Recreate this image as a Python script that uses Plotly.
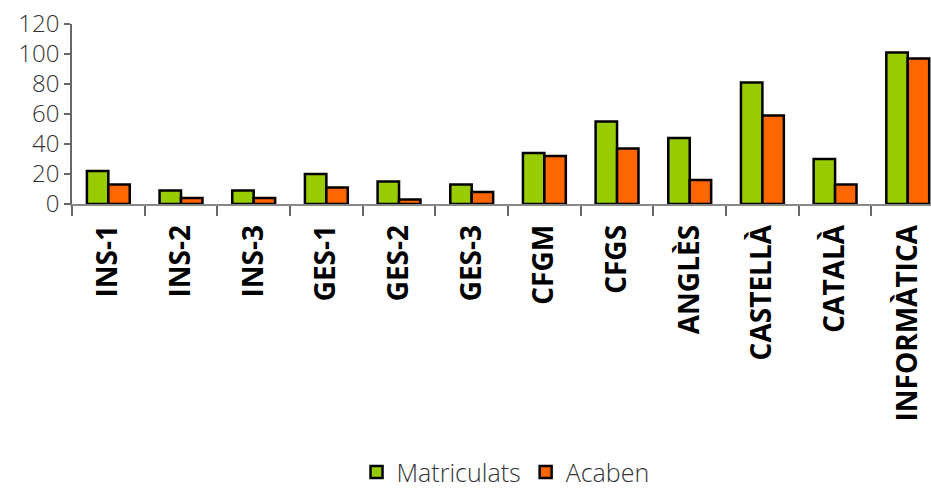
import plotly.graph_objects as go

categories = ["INS-1", "INS-2", "INS-3", "GES-1", "GES-2", "GES-3", "CFGM", "CFGS",
              "ANGLÈS", "CASTELLÀ", "CATALÀ", "INFORMÀTICA"]
matriculats = [22, 9, 9, 20, 15, 13, 34, 55, 44, 81, 30, 101]
acaben = [13, 4, 4, 11, 3, 8, 32, 37, 16, 59, 13, 97]
y_ticks = [0, 20, 40, 60, 80, 100, 120]

fig = go.Figure()
fig.add_trace(go.Bar(x=categories, y=matriculats, name="Matriculats",
                     marker=dict(color="#99CC00", line=dict(color="black", width=2.5))))
fig.add_trace(go.Bar(x=categories, y=acaben, name="Acaben",
                     marker=dict(color="#FF6600", line=dict(color="black", width=2.5))))

fig.update_layout(
    width=931, height=492,
    margin=dict(l=72, r=0, t=24, b=288, autoexpand=False),
    paper_bgcolor="white", plot_bgcolor="white",
    barmode="group", bargap=0.41, bargroupgap=0,
    font=dict(family="Open Sans", color="#333333", size=24),
    showlegend=True,
    legend=dict(orientation="h", xref="container", yref="container",
                x=0.543, y=0.04, xanchor="center", yanchor="middle",
                font=dict(size=25, color="#333333", weight=300), itemwidth=30,
                traceorder="normal"),
)
fig.update_xaxes(
    type="category", range=[-0.5, 11.32],
    showline=True, linecolor="#888888", linewidth=1.5,
    ticks="outside", tickson="boundaries", ticklen=10, tickcolor="#666666", tickwidth=1.5,
    tickangle=-90, ticklabelstandoff=8,
    tickfont=dict(family="Open Sans", size=28, color="black", weight="bold"),
    showgrid=False,
)
fig.update_yaxes(
    range=[0, 120], tickvals=y_ticks,
    showline=True, linecolor="#666666", linewidth=1.5,
    ticks="outside", ticklen=6, tickcolor="#666666", tickwidth=1.5,
    tickfont=dict(family="Open Sans", size=24, color="#333333", weight=300),
    showgrid=False, zeroline=False,
)
fig.write_html("out.html", config={"displayModeBar": False},
               post_script="document.body.style.margin='0';")
